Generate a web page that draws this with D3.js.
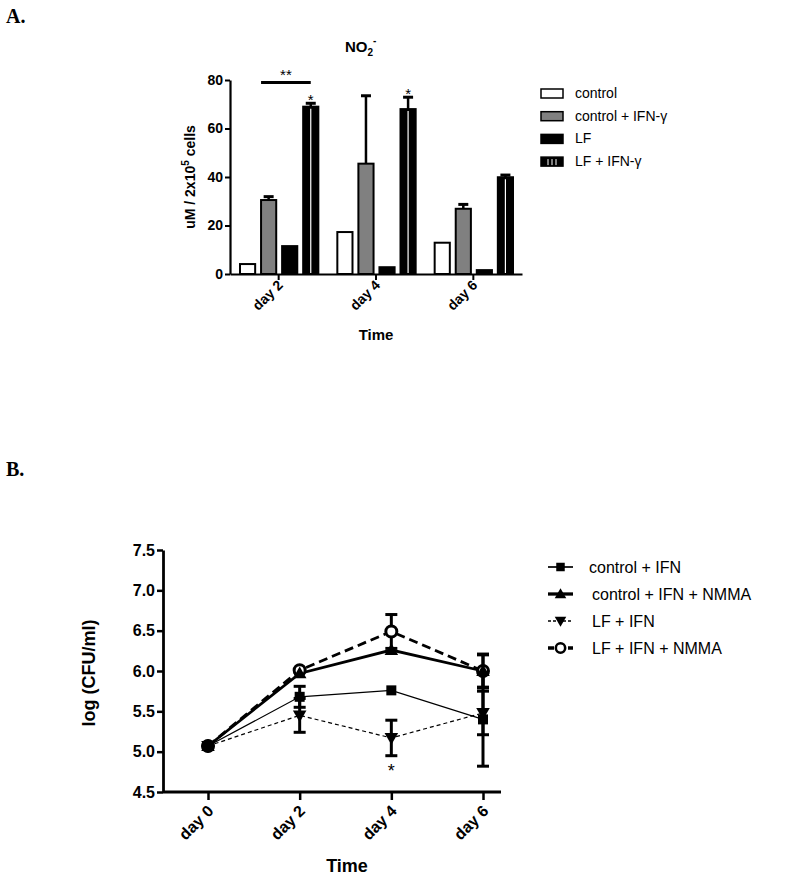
<!DOCTYPE html>
<html>
<head>
<meta charset="utf-8">
<script src="https://cdn.jsdelivr.net/npm/d3@7"></script>
<style>
  body { margin: 0; background: #fff; }
  svg { display: block; font-family: 'Liberation Sans', Arial, sans-serif; }
</style>
</head>
<body>
<script>
// ---- panel A data (NO2- production) ----
var barDays = ['day 2', 'day 4', 'day 6']
var barGroups = ['control', 'control + IFN-\u03b3', 'LF', 'LF + IFN-\u03b3']
var controlNO2 = [4.1, 17.3, 12.9]
var controlIfnNO2 = [30.5, 45.5, 26.9]
var lfNO2 = [11.5, 2.8, 1.6]
var lfIfnNO2 = [69.0, 68.0, 39.9]
var controlErr = [0, 0, 0]
var controlIfnErr = [1.4, 28.0, 1.8]
var lfErr = [0, 0, 0]
var lfIfnErr = [1.4, 4.9, 0.9]
var barTicks = [0, 20, 40, 60, 80]

// ---- panel B data (log CFU/ml) ----
var lineDays = [0, 2, 4, 6]
var lineNames = ['control + IFN', 'control + IFN + NMMA', 'LF + IFN', 'LF + IFN + NMMA']
var controlIfnCFU = [5.07, 5.68, 5.76, 5.40]
var controlIfnNmmaCFU = [5.07, 5.97, 6.26, 6.00]
var lfIfnCFU = [5.07, 5.45, 5.17, 5.48]
var lfIfnNmmaCFU = [5.07, 6.01, 6.49, 6.00]
var controlIfnSem = [0, 0.13, 0.02, 0.58]
var controlIfnNmmaSem = [0, 0.02, 0.03, 0.20]
var lfIfnSem = [0, 0.21, 0.22, 0.27]
var lfIfnNmmaSem = [0, 0.02, 0.21, 0.21]
var lineTicks = [4.5, 5.0, 5.5, 6.0, 6.5, 7.0, 7.5]

var svg = d3.select('body').append('svg').
  attr('width', 795).
  attr('height', 881)

// panel letters
svg.append('text').attr('x', 6).attr('y', 23).
  style('font-family', "'Liberation Serif', 'Times New Roman', serif").
  style('font-weight', 'bold').style('font-size', '20px').text('A.')
svg.append('text').attr('x', 6).attr('y', 476).
  style('font-family', "'Liberation Serif', 'Times New Roman', serif").
  style('font-weight', 'bold').style('font-size', '20px').text('B.')

// ================= panel A =================
var a = svg.append('g')

var xA = d3.scaleBand().domain(barDays).range([230, 522])
var xInner = d3.scaleBand().domain(barGroups).range([10, xA.bandwidth() - 9]).paddingInner(0.28)
var yA = d3.scaleLinear().domain([0, 80]).range([274, 80])

var barSeries = [
  {name: barGroups[0], values: controlNO2, err: controlErr, fill: '#fff'},
  {name: barGroups[1], values: controlIfnNO2, err: controlIfnErr, fill: '#808080'},
  {name: barGroups[2], values: lfNO2, err: lfErr, fill: '#000'},
  {name: barGroups[3], values: lfIfnNO2, err: lfIfnErr, fill: '#000', striped: true}
]

var barData = []
barSeries.forEach(function (s) {
  barDays.forEach(function (d, i) {
    barData.push({series: s, day: d, value: s.values[i], err: s.err[i]})
  })
})

// error bars first (upward only), bars on top
var errG = a.append('g')
barData.filter(function (d) { return d.err > 0 }).forEach(function (d) {
  var cx = xA(d.day) + xInner(d.series.name) + xInner.bandwidth() / 2
  var top = yA(d.value + d.err)
  errG.append('line').attr('x1', cx).attr('x2', cx).
    attr('y1', yA(d.value)).attr('y2', top).
    attr('stroke', '#000').attr('stroke-width', 2.5)
  errG.append('line').attr('x1', cx - 5).attr('x2', cx + 5).
    attr('y1', top).attr('y2', top).
    attr('stroke', '#000').attr('stroke-width', 3)
})

a.append('g').selectAll('rect').data(barData).enter().append('rect').
  attr('x', function (d) { return xA(d.day) + xInner(d.series.name) }).
  attr('y', function (d) { return yA(d.value) }).
  attr('width', xInner.bandwidth()).
  attr('height', function (d) { return yA(0) - yA(d.value) }).
  attr('fill', function (d) { return d.series.fill }).
  attr('stroke', '#000').attr('stroke-width', 2)

// white stripe inside the LF + IFN-y bars
a.append('g').selectAll('line').data(barData.filter(function (d) { return d.series.striped })).
  enter().append('line').
  attr('x1', function (d) { return xA(d.day) + xInner(d.series.name) + xInner.bandwidth() / 2 }).
  attr('x2', function (d) { return xA(d.day) + xInner(d.series.name) + xInner.bandwidth() / 2 }).
  attr('y1', function (d) { return yA(d.value) + 2 }).
  attr('y2', yA(0) - 1).
  attr('stroke', '#fff').attr('stroke-width', 1.2)

// axes A
var yAxisA = a.append('g').attr('transform', 'translate(230,0)').
  call(d3.axisLeft(yA).tickValues(barTicks).tickSize(5).tickSizeOuter(0))
var xAxisA = a.append('g').attr('transform', 'translate(0,274)').
  call(d3.axisBottom(xA).tickSize(6).tickSizeOuter(0))
;[yAxisA, xAxisA].forEach(function (g) {
  g.select('.domain').attr('stroke-width', 2.2)
  g.selectAll('.tick line').attr('stroke-width', 2)
  g.selectAll('text').style('font-family', "'Liberation Sans', Arial, sans-serif").
    style('font-weight', 'bold').style('font-size', '14px').attr('fill', '#000')
})
yAxisA.selectAll('text').attr('x', -7)
xAxisA.selectAll('text').attr('text-anchor', 'end').attr('y', 0).attr('dy', 0).
  attr('transform', 'translate(5,12) rotate(-45)')

a.append('text').attr('x', 376).attr('y', 340).attr('text-anchor', 'middle').
  style('font-weight', 'bold').style('font-size', '15px').text('Time')

var yLabA = a.append('text').attr('transform', 'translate(195,177) rotate(-90)').
  attr('text-anchor', 'middle').style('font-weight', 'bold').style('font-size', '14px')
yLabA.append('tspan').text('uM / 2x10')
yLabA.append('tspan').attr('dy', -6).style('font-size', '10px').text('5')
yLabA.append('tspan').attr('dy', 6).text(' cells')

var title = a.append('text').attr('x', 345).attr('y', 52).
  style('font-weight', 'bold').style('font-size', '15px')
title.append('tspan').text('NO')
title.append('tspan').attr('dy', 4).style('font-size', '10px').text('2')
title.append('tspan').attr('dy', -12).style('font-size', '10px').text('-')

// significance marks
var d2 = 'day 2'
var sigX1 = xA(d2) + xInner(barGroups[1])
var sigX2 = xA(d2) + xInner(barGroups[3]) + xInner.bandwidth() / 2
a.append('line').attr('x1', sigX1).attr('x2', sigX2).
  attr('y1', yA(79)).attr('y2', yA(79)).attr('stroke', '#000').attr('stroke-width', 3)
a.append('text').attr('x', (sigX1 + sigX2) / 2).attr('y', yA(79) - 2).
  attr('text-anchor', 'middle').attr('fill', '#000').style('font-size', '15px').text('**')
;[0, 1].forEach(function (i) {
  var cx = xA(barDays[i]) + xInner(barGroups[3]) + xInner.bandwidth() / 2
  a.append('text').attr('x', cx).attr('y', yA(lfIfnNO2[i] + lfIfnErr[i]) + 2).
    attr('text-anchor', 'middle').attr('fill', '#000').style('font-size', '15px').text('*')
})

// legend A
var legA = a.append('g').attr('transform', 'translate(541,89)')
barSeries.forEach(function (s, i) {
  var row = legA.append('g').attr('transform', 'translate(0,' + (i * 22.7) + ')')
  row.append('rect').attr('width', 22).attr('height', 9).
    attr('fill', s.fill).attr('stroke', '#000').attr('stroke-width', 1.5)
  if (s.striped) {
    [7, 11, 15].forEach(function (lx) {
      row.append('line').attr('x1', lx).attr('x2', lx).attr('y1', 2).attr('y2', 8).
        attr('stroke', '#fff').attr('stroke-width', 1)
    })
  }
  row.append('text').attr('x', 34).attr('y', 9).style('font-size', '14px').text(s.name)
})

// ================= panel B =================
var b = svg.append('g')

var xB = d3.scaleLinear().domain([0, 6]).range([208, 483])
var yB = d3.scaleLinear().domain([4.5, 7.5]).range([792, 550])

var lineSeries = [
  {name: lineNames[3], values: lfIfnNmmaCFU, sem: lfIfnNmmaSem, width: 2.8, dash: '9,5', marker: 'circle'},
  {name: lineNames[1], values: controlIfnNmmaCFU, sem: controlIfnNmmaSem, width: 2.8, dash: null, marker: 'up'},
  {name: lineNames[0], values: controlIfnCFU, sem: controlIfnSem, width: 1.2, dash: null, marker: 'square'},
  {name: lineNames[2], values: lfIfnCFU, sem: lfIfnSem, width: 1.2, dash: '4,3', marker: 'down'}
]

var line = d3.line().
  x(function (d) { return xB(d.day) }).
  y(function (d) { return yB(d.v) })

function pts (s) {
  return lineDays.map(function (day, i) { return {day: day, v: s.values[i], sem: s.sem[i]} })
}

function drawMarker (g, type, x, y, k) {
  k = k || 1
  if (type === 'circle') {
    g.append('circle').attr('cx', x).attr('cy', y).attr('r', 5.5 * k).
      attr('fill', '#fff').attr('stroke', '#000').attr('stroke-width', 3 * k)
  } else if (type === 'square') {
    g.append('rect').attr('x', x - 5 * k).attr('y', y - 5 * k).
      attr('width', 10 * k).attr('height', 10 * k).attr('fill', '#000')
  } else if (type === 'up') {
    g.append('path').attr('d', d3.symbol().type(d3.symbolTriangle).size(80 * k * k)()).
      attr('transform', 'translate(' + x + ',' + (y + 1) + ')').attr('fill', '#000')
  } else {
    g.append('path').attr('d', d3.symbol().type(d3.symbolTriangle).size(80 * k * k)()).
      attr('transform', 'translate(' + x + ',' + (y - 1) + ') rotate(180)').attr('fill', '#000')
  }
}

lineSeries.forEach(function (s) {
  var p = pts(s)
  var g = b.append('g')
  g.append('path').attr('d', line(p)).attr('fill', 'none').
    attr('stroke', '#000').attr('stroke-width', s.width).
    attr('stroke-dasharray', s.dash)
  p.filter(function (d) { return d.sem > 0.05 }).forEach(function (d) {
    var cx = xB(d.day)
    g.append('line').attr('x1', cx).attr('x2', cx).
      attr('y1', yB(d.v - d.sem)).attr('y2', yB(d.v + d.sem)).
      attr('stroke', '#000').attr('stroke-width', 3)
    ;[d.v - d.sem, d.v + d.sem].forEach(function (v) {
      g.append('line').attr('x1', cx - 6).attr('x2', cx + 6).
        attr('y1', yB(v)).attr('y2', yB(v)).
        attr('stroke', '#000').attr('stroke-width', 3)
    })
  })
})
// markers on top
lineSeries.forEach(function (s) {
  var g = b.append('g')
  pts(s).forEach(function (d) { drawMarker(g, s.marker, xB(d.day), yB(d.v)) })
})
// shared day 0 starting point
b.append('circle').attr('cx', xB(0)).attr('cy', yB(lfIfnNmmaCFU[0])).attr('r', 6.5).attr('fill', '#000')

// axes B
var yAxisB = b.append('g').attr('transform', 'translate(163,0)').
  call(d3.axisLeft(yB).tickValues(lineTicks).tickFormat(d3.format('.1f')).tickSize(6).tickSizeOuter(0))
var xAxisB = b.append('g').attr('transform', 'translate(0,792)').
  call(d3.axisBottom(xB).tickValues(lineDays).tickFormat(function (d) { return 'day ' + d }).
    tickSize(8).tickSizeOuter(0))
xAxisB.select('.domain').attr('d', 'M163,0H501')
;[yAxisB, xAxisB].forEach(function (g) {
  g.select('.domain').attr('stroke-width', 2.8)
  g.selectAll('.tick line').attr('stroke-width', 2.5)
  g.selectAll('text').style('font-family', "'Liberation Sans', Arial, sans-serif").
    style('font-weight', 'bold').style('font-size', '16px').attr('fill', '#000')
})
yAxisB.selectAll('text').attr('x', -8)
xAxisB.selectAll('text').attr('text-anchor', 'end').attr('y', 0).attr('dy', 0).
  attr('transform', 'translate(6,20) rotate(-45)')

b.append('text').attr('x', 347).attr('y', 872).attr('text-anchor', 'middle').
  style('font-weight', 'bold').style('font-size', '18px').text('Time')
b.append('text').attr('transform', 'translate(95,673) rotate(-90)').
  attr('text-anchor', 'middle').style('font-weight', 'bold').style('font-size', '18px').
  text('log (CFU/ml)')

// asterisk under LF + IFN day 4
b.append('text').attr('x', xB(4)).attr('y', yB(lfIfnCFU[2] - lfIfnSem[2]) + 21).
  attr('text-anchor', 'middle').attr('fill', '#000').style('font-size', '18px').text('*')

// legend B
var legOrder = [2, 1, 3, 0]
var legB = b.append('g').attr('transform', 'translate(548,567)')
legOrder.forEach(function (k, i) {
  var s = lineSeries[k]
  var row = legB.append('g').attr('transform', 'translate(0,' + (i * 27) + ')')
  row.append('line').attr('x1', 0).attr('x2', 25).attr('y1', 0).attr('y2', 0).
    attr('stroke', '#000').attr('stroke-width', s.width + 0.5).
    attr('stroke-dasharray', s.dash ? (s.width > 2 ? '6,4' : '3,2') : null)
  drawMarker(row, s.marker, 12.5, 0, 0.85)
  row.append('text').attr('x', i === 0 ? 41 : 44).attr('y', 6).
    style('font-size', '16px').text(s.name)
})
</script>
</body>
</html>
